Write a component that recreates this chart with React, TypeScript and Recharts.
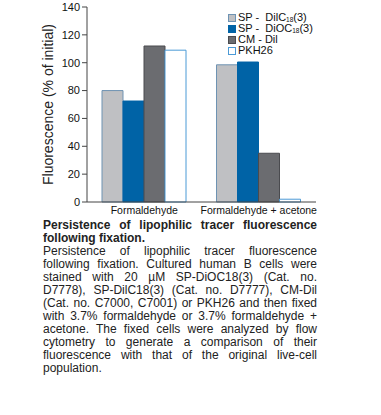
import {
    BarChart,
    Bar,
    XAxis,
    YAxis,
    Legend,
} from "recharts";

const categories = ["Formaldehyde", "Formaldehyde + acetone"];

const spDilValues = [80, 98.5];
const spDioValues = [72.5, 100.5];
const cmDilValues = [112, 35];
const pkhValues = [109, 2];

const yTicks = [0, 20, 40, 60, 80, 100, 120, 140];

const captionTitle = [
    "Persistence of lipophilic tracer fluorescence",
    "following fixation.",
];

const captionLines = [
    "Persistence of lipophilic tracer fluorescence",
    "following fixation. Cultured human B cells were",
    "stained with 20 µM SP-DiOC18(3) (Cat. no.",
    "D7778), SP-DilC18(3) (Cat. no. D7777), CM-Dil",
    "(Cat. no. C7000, C7001) or PKH26 and then fixed",
    "with 3.7% formaldehyde or 3.7% formaldehyde +",
    "acetone. The fixed cells were analyzed by flow",
    "cytometry to generate a comparison of their",
    "fluorescence with that of the original live-cell",
    "population.",
];

const series = [
    { key: "spDil", pre: "SP -  DilC", sub: "18", post: "(3)", fill: "#bfc0c3", stroke: "#6e93b3" },
    { key: "spDio", pre: "SP -  DiOC", sub: "18", post: "(3)", fill: "#0063a6", stroke: "#0063a6" },
    { key: "cmDil", pre: "CM - Dil", sub: "", post: "", fill: "#6b6c70", stroke: "#4a4b4f" },
    { key: "pkh", pre: "PKH26", sub: "", post: "", fill: "#ffffff", stroke: "#4b9ad6" },
];

const data = categories.map((name, i) => ({
    name,
    spDil: spDilValues[i],
    spDio: spDioValues[i],
    cmDil: cmDilValues[i],
    pkh: pkhValues[i],
}));

const font = "Arial, 'Liberation Sans', Helvetica, sans-serif";

function LegendBox() {
    return (
        <div style={{ fontFamily: font, fontSize: 11, color: "#111", lineHeight: "11px" }}>
            {series.map((s) => (
                <div key={s.key} style={{ display: "flex", alignItems: "center", height: 11 }}>
                    <span
                        style={{
                            display: "inline-block",
                            width: 6,
                            height: 6,
                            background: s.fill,
                            border: `1px solid ${s.stroke}`,
                            marginRight: 2,
                        }}
                    />
                    <span style={{ whiteSpace: "pre" }}>
                        {s.pre}
                        {s.sub && (
                            <span style={{ fontSize: 6.5, lineHeight: "6px", verticalAlign: -1 }}>{s.sub}</span>
                        )}
                        {s.post}
                    </span>
                </div>
            ))}
        </div>
    );
}

function YLabel({ viewBox }: any) {
    const cx = viewBox.x + 48;
    const cy = viewBox.y + viewBox.height / 2;
    return (
        <text
            x={cx}
            y={cy}
            transform={`rotate(-90 ${cx} ${cy})`}
            textAnchor="middle"
            dominantBaseline="central"
            fontFamily={font}
            fontSize={14}
            fill="#222"
        >
            Fluorescence (% of initial)
        </text>
    );
}

export default function App() {
    return (
        <div
            style={{
                position: "absolute",
                left: 0,
                top: 0,
                width: 381,
                height: 415,
                background: "#fff",
            }}
        >
            <BarChart
                width={381}
                height={222}
                data={data}
                margin={{ top: 7, right: 65, left: 0, bottom: 0 }}
                barGap={0}
                barSize={21}
            >
                <XAxis
                    dataKey="name"
                    height={20}
                    tickLine={false}
                    tickSize={0}
                    tickMargin={5}
                    axisLine={{ stroke: "#444" }}
                    tick={{ fontFamily: font, fontSize: 10.5, fill: "#111" }}
                    interval={0}
                />
                <XAxis
                    xAxisId="top"
                    orientation="top"
                    dataKey="name"
                    height={0}
                    tick={false}
                    tickLine={false}
                    axisLine={{ stroke: "#888" }}
                />
                <YAxis
                    width={87}
                    domain={[0, 140]}
                    ticks={yTicks}
                    tickSize={5}
                    tickMargin={2}
                    axisLine={{ stroke: "#444" }}
                    tickLine={{ stroke: "#444" }}
                    tick={{ fontFamily: font, fontSize: 11, fill: "#111" }}
                    label={<YLabel />}
                />
                <YAxis
                    yAxisId="right"
                    orientation="right"
                    width={0}
                    domain={[0, 140]}
                    tick={false}
                    tickLine={false}
                    axisLine={{ stroke: "#888" }}
                />
                <Legend
                    layout="vertical"
                    align="center"
                    verticalAlign="middle"
                    wrapperStyle={{ left: 228, top: 12, width: 88 }}
                    content={() => <LegendBox />}
                />
                {series.map((s) => (
                    <Bar
                        key={s.key}
                        dataKey={s.key}
                        fill={s.fill}
                        stroke={s.stroke}
                        strokeWidth={1}
                        isAnimationActive={false}
                    />
                ))}
            </BarChart>
            <div
                style={{
                    position: "absolute",
                    left: 43,
                    top: 219,
                    width: 274,
                    fontFamily: font,
                    fontSize: 12,
                    lineHeight: "13px",
                    color: "#222",
                }}
            >
                {captionTitle.map((line, i) => (
                    <div
                        key={"t" + i}
                        style={{
                            fontWeight: "bold",
                            textAlign: "justify",
                            textAlignLast: i < captionTitle.length - 1 ? "justify" : "left",
                        }}
                    >
                        {line}
                    </div>
                ))}
                {captionLines.map((line, i) => (
                    <div
                        key={"c" + i}
                        style={{
                            textAlign: "justify",
                            textAlignLast: i < captionLines.length - 1 ? "justify" : "left",
                        }}
                    >
                        {line}
                    </div>
                ))}
            </div>
        </div>
    );
}
